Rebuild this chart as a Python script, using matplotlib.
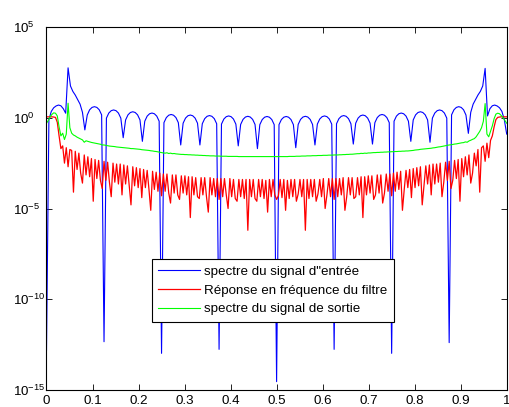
import numpy as np
import matplotlib
matplotlib.use('Agg')
import matplotlib.pyplot as plt
from matplotlib.ticker import FixedLocator, NullLocator, FixedFormatter

plt.rcParams['font.family'] = ['Liberation Sans', 'DejaVu Sans']
plt.rcParams['mathtext.fontset'] = 'custom'
plt.rcParams['mathtext.rm'] = 'Liberation Sans'
plt.rcParams['mathtext.it'] = 'Liberation Sans:italic'
plt.rcParams['mathtext.bf'] = 'Liberation Sans:bold'

# log10 magnitude of the input spectrum (193 samples on 0..1)
blue_log = [
    -12.8, -0.1, 0.35, 0.55, 0.65, 0.7, 0.66, 0.5,
    0.25, 2.75, 1.75, 1.45, 1.25, 1.0, 0.75, 0.3,
    -0.67, 0.15, 0.44, 0.57, 0.61, 0.57, 0.44, 0.16,
    -12.34, -0.02, 0.26, 0.39, 0.43, 0.39, 0.26, -0.02,
    -1.1, -0.12, 0.16, 0.29, 0.33, 0.29, 0.16, -0.12,
    -1.3, -0.19, 0.09, 0.22, 0.26, 0.22, 0.09, -0.19,
    -12.98, -0.27, 0.01, 0.14, 0.18, 0.14, 0.01, -0.27,
    -1.5, -0.3, -0.02, 0.11, 0.15, 0.11, -0.02, -0.3,
    -1.5, -0.33, -0.05, 0.08, 0.12, 0.08, -0.05, -0.33,
    -12.76, -0.35, -0.07, 0.06, 0.1, 0.06, -0.07, -0.35,
    -1.55, -0.37, -0.09, 0.04, 0.08, 0.04, -0.09, -0.37,
    -1.7, -0.38, -0.1, 0.03, 0.07, 0.03, -0.1, -0.38,
    -14.54, -0.38, -0.1, 0.03, 0.07, 0.03, -0.1, -0.38,
    -1.65, -0.37, -0.09, 0.04, 0.08, 0.04, -0.09, -0.37,
    -1.5, -0.35, -0.07, 0.06, 0.1, 0.06, -0.07, -0.35,
    -12.76, -0.33, -0.05, 0.08, 0.12, 0.08, -0.05, -0.33,
    -1.45, -0.3, -0.02, 0.11, 0.15, 0.11, -0.02, -0.3,
    -1.45, -0.27, 0.01, 0.14, 0.18, 0.14, 0.01, -0.27,
    -12.98, -0.19, 0.09, 0.22, 0.26, 0.22, 0.09, -0.19,
    -1.3, -0.12, 0.16, 0.29, 0.33, 0.29, 0.16, -0.12,
    -1.35, -0.02, 0.26, 0.39, 0.43, 0.39, 0.26, -0.02,
    -12.39, 0.16, 0.44, 0.57, 0.61, 0.57, 0.44, 0.15,
    -0.86, 0.3, 0.75, 1.0, 1.25, 1.45, 1.75, 2.72,
    0.1, 0.5, 0.66, 0.7, 0.65, 0.55, 0.35, -0.1,
    -0.9,
]

# log10 magnitude of the filter response (257 samples on 0..1)
red_log = [
    0.05, 0.05, 0.05, 0.05, 0.04, 0.02, -0.25, -1.0,
    -1.7, -1.55, -2.5, -1.65, -2.7, -1.75, -1.8, -4.1,
    -1.85, -2.85, -1.95, -3.05, -3.6, -2.05, -3.15, -2.15,
    -3.25, -2.25, -4.6, -2.3, -3.35, -2.35, -3.45, -3.9,
    -2.4, -3.45, -2.45, -3.55, -4.35, -2.5, -3.55, -2.55,
    -3.65, -2.55, -4.25, -2.6, -3.65, -2.65, -3.75, -4.8,
    -2.7, -3.75, -2.75, -3.85, -2.8, -4.4, -2.85, -3.85,
    -2.9, -3.95, -5.1, -2.95, -3.95, -3.0, -4.05, -3.05,
    -4.3, -3.1, -4.05, -3.1, -4.15, -4.7, -3.15, -4.15,
    -3.15, -4.25, -4.5, -3.2, -4.15, -3.2, -4.25, -3.25,
    -5.5, -3.25, -4.25, -3.3, -4.35, -4.45, -3.3, -4.25,
    -3.3, -4.35, -5.2, -3.3, -4.25, -3.35, -4.35, -3.35,
    -4.5, -3.35, -4.35, -3.35, -4.25, -5.0, -3.35, -4.35,
    -3.4, -4.45, -4.6, -3.4, -4.35, -3.4, -4.45, -3.4,
    -6.2, -3.4, -4.35, -3.4, -4.45, -4.6, -3.4, -4.35,
    -3.4, -4.45, -3.45, -5.2, -3.4, -4.35, -3.4, -4.25,
    -4.5, -4.3, -3.4, -4.4, -3.4, -5.1, -3.45, -4.45,
    -3.4, -4.35, -3.4, -4.6, -4.2, -3.4, -4.35, -3.4,
    -6.2, -3.4, -4.45, -3.4, -4.35, -3.4, -4.6, -4.2,
    -3.4, -4.35, -3.35, -5.0, -4.25, -3.35, -4.35, -3.35,
    -4.5, -3.35, -4.35, -3.35, -4.25, -3.3, -5.1, -4.35,
    -3.3, -4.25, -3.3, -4.45, -4.35, -3.3, -4.25, -3.25,
    -5.5, -3.25, -4.25, -3.2, -4.15, -3.2, -4.5, -4.25,
    -3.15, -4.15, -3.15, -4.7, -4.15, -3.1, -4.05, -3.1,
    -4.3, -3.05, -4.05, -3.0, -3.95, -2.95, -5.1, -3.95,
    -2.9, -3.85, -2.85, -4.4, -2.8, -3.85, -2.75, -3.75,
    -2.7, -4.8, -3.75, -2.65, -3.65, -2.6, -4.25, -2.55,
    -3.65, -2.55, -3.55, -2.5, -4.35, -3.55, -2.45, -3.45,
    -2.4, -3.9, -3.45, -2.35, -3.35, -2.3, -4.6, -2.25,
    -3.25, -2.15, -3.15, -2.05, -3.6, -3.05, -1.95, -2.65,
    -1.75, -4.1, -1.65, -1.55, -2.4, -1.4, -2.2, -1.25,
    -1.0, -0.5, -0.1, 0.02, 0.04, 0.05, 0.05, 0.05,
    0.05,
]

# log10 magnitude of the output spectrum (257 samples on 0..1)
green_log = [
    -0.3, -0.15, 0.05, 0.18, 0.27, 0.25, 0.1, -0.5,
    -1.0, -0.85, -1.2, -0.9, 0.8, -0.55, -0.85, -0.95,
    -1.0, -1.07, -1.12, -1.17, -1.22, -1.35, -1.27, -1.3,
    -1.33, -1.36, -1.38, -1.4, -1.42, -1.44, -1.46, -1.5,
    -1.5, -1.52, -1.54, -1.56, -1.57, -1.58, -1.59, -1.61,
    -1.62, -1.63, -1.64, -1.65, -1.66, -1.67, -1.68, -1.7,
    -1.7, -1.71, -1.72, -1.73, -1.74, -1.76, -1.77, -1.78,
    -1.79, -1.8, -1.82, -1.83, -1.85, -1.86, -1.88, -1.9,
    -1.92, -1.94, -1.95, -1.93, -1.97, -1.95, -1.98, -1.97,
    -1.99, -2.0, -2.01, -2.02, -2.02, -2.03, -2.03, -2.04,
    -2.04, -2.05, -2.05, -2.06, -2.06, -2.07, -2.07, -2.08,
    -2.08, -2.09, -2.09, -2.1, -2.1, -2.1, -2.11, -2.11,
    -2.11, -2.12, -2.12, -2.12, -2.12, -2.13, -2.13, -2.13,
    -2.13, -2.13, -2.13, -2.14, -2.14, -2.14, -2.14, -2.14,
    -2.14, -2.14, -2.14, -2.14, -2.14, -2.14, -2.14, -2.14,
    -2.14, -2.14, -2.14, -2.14, -2.14, -2.14, -2.14, -2.14,
    -2.14, -2.14, -2.14, -2.14, -2.14, -2.14, -2.14, -2.13,
    -2.13, -2.13, -2.13, -2.12, -2.12, -2.12, -2.11, -2.11,
    -2.11, -2.1, -2.1, -2.1, -2.09, -2.09, -2.09, -2.08,
    -2.08, -2.08, -2.07, -2.07, -2.07, -2.06, -2.06, -2.06,
    -2.05, -2.05, -2.05, -2.04, -2.04, -2.03, -2.03, -2.02,
    -2.02, -2.01, -2.01, -2.0, -1.99, -1.98, -1.98, -1.96,
    -1.97, -1.95, -1.96, -1.94, -1.94, -1.93, -1.92, -1.92,
    -1.91, -1.91, -1.9, -1.9, -1.89, -1.89, -1.88, -1.88,
    -1.87, -1.87, -1.86, -1.86, -1.85, -1.85, -1.84, -1.84,
    -1.83, -1.83, -1.82, -1.81, -1.8, -1.78, -1.77, -1.76,
    -1.74, -1.73, -1.72, -1.71, -1.7, -1.69, -1.68, -1.66,
    -1.65, -1.63, -1.61, -1.6, -1.58, -1.56, -1.54, -1.52,
    -1.5, -1.49, -1.47, -1.45, -1.44, -1.42, -1.4, -1.38,
    -1.37, -1.33, -1.35, -1.28, -1.24, -1.19, -1.15, -1.05,
    -0.9, -0.75, -0.55, -0.2, 0.78, -0.9, -1.05, -0.75,
    -0.45, -0.05, 0.2, 0.25, 0.22, 0.12, 0.0, -0.15,
    -0.3,
]

assert len(blue_log) == 193, len(blue_log)
assert len(red_log) == 257, len(red_log)
assert len(green_log) == 257, len(green_log)

x_ticks = [0, 0.1, 0.2, 0.3, 0.4, 0.5, 0.6, 0.7, 0.8, 0.9, 1.0]
x_tick_labels = ['0', '0.1', '0.2', '0.3', '0.4', '0.5', '0.6', '0.7', '0.8', '0.9', '1']
y_tick_exps = [-15, -10, -5, 0, 5]
legend_labels = ['spectre du signal d"entrée',
                 'Réponse en fréquence du filtre',
                 'spectre du signal de sortie']

f_blue = np.linspace(0, 1, len(blue_log))
f_red = np.linspace(0, 1, len(red_log))
f_green = np.linspace(0, 1, len(green_log))

FS = 9.6

fig = plt.figure(figsize=(5.10, 4.07), dpi=100)
ax = fig.add_axes([46.5 / 510, 17 / 407, 460.2 / 510, 363 / 407])

ax.plot(f_blue, 10.0 ** np.array(blue_log), color='#0000ff', lw=0.8, label=legend_labels[0])
ax.plot(f_red, 10.0 ** np.array(red_log), color='#ff0000', lw=0.9, label=legend_labels[1])
ax.plot(f_green, 10.0 ** np.array(green_log), color='#00ff00', lw=0.8, label=legend_labels[2])
ax.set_yscale('log')
ax.set_xlim(0, 1)
ax.set_ylim(1e-15, 1e5)

ax.xaxis.set_major_locator(FixedLocator(x_ticks))
ax.xaxis.set_major_formatter(FixedFormatter(x_tick_labels))
ax.xaxis.set_minor_locator(NullLocator())
ax.yaxis.set_major_locator(FixedLocator([10.0 ** e for e in y_tick_exps]))
ax.yaxis.set_major_formatter(FixedFormatter([r'$\mathregular{10^{%d}}$' % e for e in y_tick_exps]))
ax.yaxis.set_minor_locator(NullLocator())

ax.tick_params(axis='both', which='major', direction='in', length=4, width=0.6,
               top=True, right=True, labelsize=FS, colors='black')
ax.tick_params(axis='x', pad=3.9)
ax.tick_params(axis='y', pad=24.4)
for lab in ax.get_yticklabels():
    lab.set_horizontalalignment('left')
for sp in ax.spines.values():
    sp.set_linewidth(0.8)
    sp.set_color('black')

leg = ax.legend(loc='lower left', bbox_to_anchor=(0.2287, 0.188), borderaxespad=0,
                fontsize=FS, fancybox=False, framealpha=1, edgecolor='black',
                handlelength=3.15, handletextpad=0.3, labelspacing=0.47, borderpad=0.48)
leg.get_frame().set_linewidth(0.8)

fig.savefig('out.png', dpi=100)
